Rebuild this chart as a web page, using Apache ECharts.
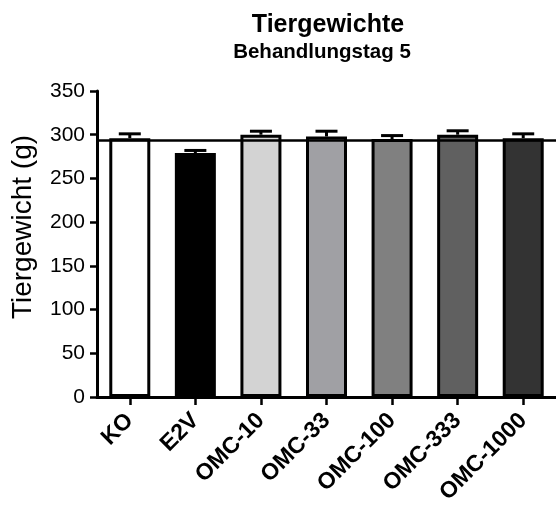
<!DOCTYPE html>
<html>
<head>
<meta charset="utf-8">
<script src="https://cdn.jsdelivr.net/npm/echarts@6/dist/echarts.min.js"></script>
<style>
  html, body { margin: 0; padding: 0; background: #fff; }
  #chart { width: 556px; height: 506px; }
</style>
</head>
<body>
<div id="chart"></div>
<script>
// Body weights on treatment day 5 (mean ± SEM, g)
const categories = ['KO', 'E2V', 'OMC-10', 'OMC-33', 'OMC-100', 'OMC-333', 'OMC-1000'];
const meanWeights = [296, 279, 300, 298, 295, 300, 296];
const semWeights = [5, 3, 4, 6, 4, 4.5, 5];
const barColors = ['#ffffff', '#000000', '#d3d3d3', '#a0a0a4', '#808080', '#606060', '#333333'];
const referenceWeight = 294;
const yTicks = { min: 0, max: 350, step: 50 };

const FONT = "'Liberation Sans', Arial, sans-serif";

const chart = echarts.init(document.getElementById('chart'), null, { renderer: 'canvas' });

const barData = meanWeights.map((v, i) => ({
  value: v,
  itemStyle: { color: barColors[i] }
}));

const errorData = meanWeights.map((v, i) => [i, v, v + semWeights[i]]);

chart.setOption({
  animation: false,
  backgroundColor: '#ffffff',
  title: [
    {
      text: 'Tiergewichte',
      left: 323,
      textAlign: 'center',
      top: 8,
      textStyle: { fontFamily: FONT, fontSize: 25, fontWeight: 'bold', color: '#000' }
    },
    {
      text: 'Behandlungstag 5',
      left: 317,
      textAlign: 'center',
      top: 37,
      textStyle: { fontFamily: FONT, fontSize: 20.5, fontWeight: 'bold', color: '#000' }
    }
  ],
  grid: { left: 97, right: 0, top: 91, bottom: 109, containLabel: false, outerBoundsMode: 'none' },
  xAxis: {
    type: 'category',
    data: categories,
    axisLine: { show: true, lineStyle: { color: '#000', width: 3 } },
    axisTick: { show: true, alignWithLabel: true, length: 8, lineStyle: { color: '#000', width: 2.5 } },
    axisLabel: {
      rotate: 45,
      margin: 20,
      interval: 0,
      fontFamily: FONT,
      fontSize: 23,
      fontWeight: 'bold',
      color: '#000'
    }
  },
  yAxis: {
    type: 'value',
    min: yTicks.min,
    max: yTicks.max,
    interval: yTicks.step,
    name: 'Tiergewicht (g)',
    nameLocation: 'middle',
    nameGap: 60,
    nameTextStyle: { fontFamily: FONT, fontSize: 28, color: '#000', padding: [0, 0, 0, 34] },
    axisLine: { show: true, lineStyle: { color: '#000', width: 3 } },
    axisTick: { show: true, length: 7, lineStyle: { color: '#000', width: 2.5 } },
    axisLabel: { margin: 12, fontFamily: FONT, fontSize: 21, color: '#000' },
    splitLine: { show: false }
  },
  series: [
    {
      type: 'bar',
      data: barData,
      barWidth: 41,
      itemStyle: { borderColor: '#000', borderWidth: 3 },
      markLine: {
        silent: true,
        symbol: 'none',
        label: { show: false },
        lineStyle: { color: '#000', width: 2.5, type: 'solid' },
        data: [{ yAxis: referenceWeight }]
      },
      z: 2
    },
    {
      type: 'custom',
      data: errorData,
      z: 3,
      renderItem: function (params, api) {
        const idx = api.value(0);
        const base = api.coord([idx, api.value(1)]);
        const top = api.coord([idx, api.value(2)]);
        const half = 11;
        const style = { stroke: '#000', lineWidth: 3 };
        return {
          type: 'group',
          children: [
            { type: 'line', shape: { x1: base[0], y1: base[1], x2: top[0], y2: top[1] }, style: style },
            { type: 'line', shape: { x1: top[0] - half, y1: top[1], x2: top[0] + half, y2: top[1] }, style: style }
          ]
        };
      }
    }
  ]
});
</script>
</body>
</html>
